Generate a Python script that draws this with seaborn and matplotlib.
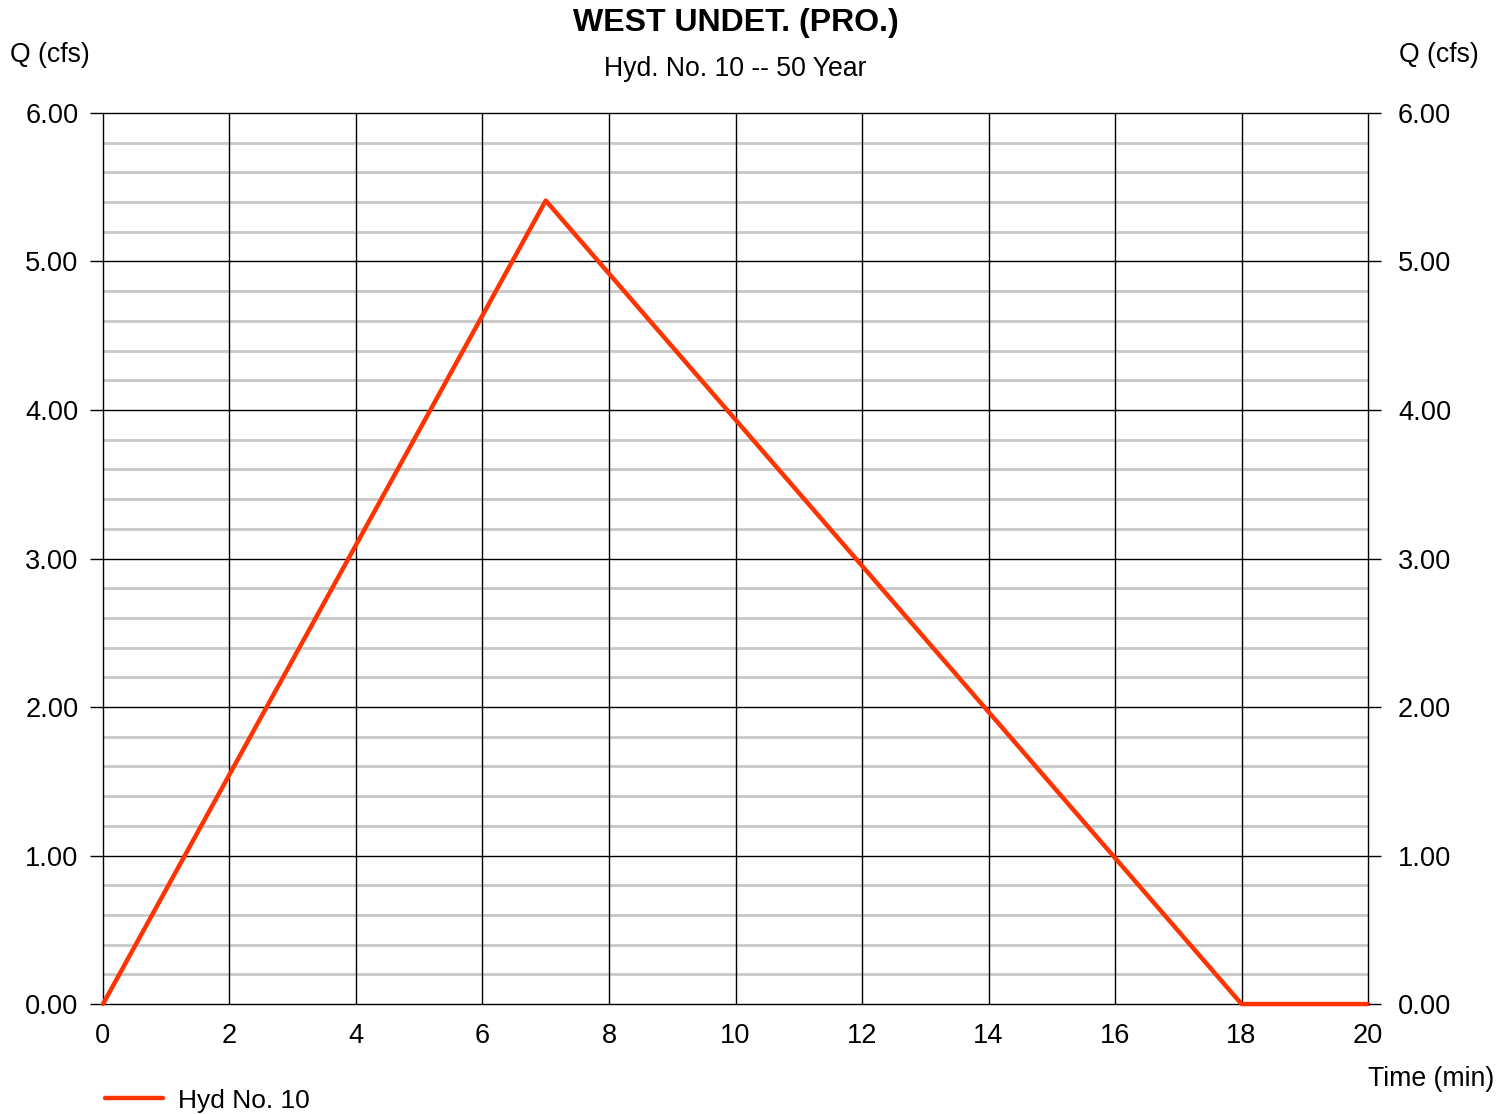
import numpy as np
import pandas as pd
import seaborn as sns
import matplotlib.pyplot as plt

# hydrograph points
time_min = [0, 7, 18, 20]
q_cfs = [0.0, 5.41, 0.0, 0.0]
x_ticks = [0, 2, 4, 6, 8, 10, 12, 14, 16, 18, 20]
y_ticks = [0, 1, 2, 3, 4, 5, 6]
series_name = "Hyd No. 10"

sns.set_theme(style="white")
plt.rcParams['font.family'] = ['Liberation Sans', 'DejaVu Sans']
plt.rcParams['text.color'] = 'black'
plt.rcParams['xtick.color'] = 'black'
plt.rcParams['ytick.color'] = 'black'

df = pd.DataFrame({"Time": time_min, "Q": q_cfs})

fig, ax = plt.subplots(figsize=(15.12, 11.14), dpi=100)
fig.subplots_adjust(left=0.0681, right=0.9048, top=0.8986, bottom=0.0987)

sns.lineplot(data=df, x="Time", y="Q", ax=ax, color="#ff3300", lw=3.2,
             label=series_name, clip_on=False, zorder=5)

ax.set_xlim(0, 20)
ax.set_ylim(0, 6)
ax.set_xticks(x_ticks)
ax.set_yticks(y_ticks)
ax.set_yticks(np.arange(0, 6.01, 0.2), minor=True)
ax.set_yticklabels([f"{v:.2f}" for v in y_ticks])
# light minor grid below, black major grid on top of it
ax.grid(which="minor", axis="y", color="#c8c8c8", lw=2)
ax.set_axisbelow(True)
for xv in x_ticks:
    ax.axvline(xv, color="black", lw=1, zorder=2, clip_on=False)
for yv in y_ticks:
    ax.axhline(yv, color="black", lw=1, zorder=2, clip_on=False)
ax.tick_params(which="major", direction="out", length=9.5, width=1,
               color="black", labelsize=19.6, pad=8, left=True, bottom=False)
ax.tick_params(axis="x", pad=4)
ax.tick_params(which="minor", length=0)
for s in ax.spines.values():
    s.set_visible(False)
ax.set_xlabel("")
ax.set_ylabel("")

ax2 = ax.twinx()
ax2.set_ylim(0, 6)
ax2.set_yticks(y_ticks)
ax2.set_yticklabels([f"{v:.2f}" for v in y_ticks])
ax2.tick_params(direction="out", length=9.5, width=1, color="black",
                labelsize=19.6, pad=12, right=True)
for s in ax2.spines.values():
    s.set_visible(False)

fig.text(0.4865, 0.979, "WEST UNDET. (PRO.)", ha="center", va="center",
         fontsize=23, fontweight="bold")
fig.text(0.4865, 0.938, "Hyd. No. 10 -- 50 Year", ha="center", va="center", fontsize=19.2)
fig.text(0.0066, 0.951, "Q (cfs)", ha="left", va="center", fontsize=19.2)
fig.text(0.978, 0.951, "Q (cfs)", ha="right", va="center", fontsize=19.2)
fig.text(0.988, 0.031, "Time (min)", ha="right", va="center", fontsize=19.2)

ax.legend(loc="center left", bbox_to_anchor=(0.0625, 0.012),
          bbox_transform=fig.transFigure, frameon=False, fontsize=19,
          handlelength=2.2, handletextpad=0.55, borderaxespad=0)

fig.savefig("out.png", dpi=100)
